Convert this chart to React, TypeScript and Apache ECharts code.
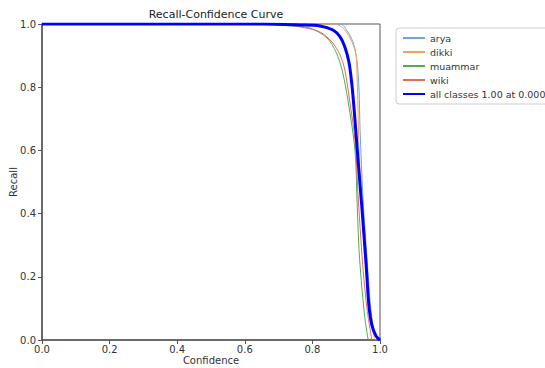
import React, { useEffect, useRef } from "react";
import * as echarts from "echarts";

const xTicks = ["0.0", "0.2", "0.4", "0.6", "0.8", "1.0"];
const classNames = ["arya", "dikki", "muammar", "wiki"];
const allLabel = "all classes 1.00 at 0.000";

const arya: [number, number][] = [
  [0, 1], [0.8, 1], [0.882, 1.0], [0.905, 0.975], [0.923, 0.934], [0.932, 0.88],
  [0.938, 0.791], [0.941, 0.665], [0.95, 0.443], [0.962, 0.253], [0.973, 0.095],
  [0.985, 0.016], [0.994, 0],
];
const dikki: [number, number][] = [
  [0, 1], [0.84, 1], [0.867, 1], [0.896, 0.981], [0.917, 0.943], [0.929, 0.902],
  [0.932, 0.839], [0.935, 0.728], [0.938, 0.601], [0.947, 0.411], [0.959, 0.222],
  [0.97, 0.079], [0.985, 0],
];
const muammar: [number, number][] = [
  [0, 1], [0.65, 1], [0.734, 0.994], [0.793, 0.987], [0.843, 0.956], [0.87, 0.911],
  [0.888, 0.854], [0.905, 0.759], [0.926, 0.601], [0.932, 0.443], [0.938, 0.285],
  [0.947, 0.158], [0.956, 0.063], [0.965, 0],
];
const wiki: [number, number][] = [
  [0, 1], [0.7, 1], [0.763, 0.991], [0.822, 0.975], [0.858, 0.943], [0.882, 0.902],
  [0.896, 0.854], [0.91, 0.759], [0.926, 0.633], [0.936, 0.443], [0.95, 0.222],
  [0.962, 0.095], [0.976, 0],
];
const allClasses: [number, number][] = [
  [0, 1], [0.65, 1], [0.763, 0.997], [0.822, 0.994], [0.861, 0.981], [0.882, 0.959],
  [0.896, 0.927], [0.908, 0.88], [0.917, 0.807], [0.926, 0.696], [0.935, 0.57],
  [0.947, 0.411], [0.959, 0.237], [0.967, 0.111], [0.976, 0.047], [0.988, 0.013],
  [1.0, 0],
];

const classData = [arya, dikki, muammar, wiki];
const classColors = ["#6fa6d4", "#f5a257", "#4fae4f", "#e56a62"];

const FONT = "DejaVu Sans";

export default function App() {
  const ref = useRef<HTMLDivElement>(null);
  useEffect(() => {
    if (!ref.current) return;
    const chart = echarts.init(ref.current, null, { renderer: "svg" });
    const series: any[] = classNames.map((name, i) => ({
      name,
      type: "line",
      data: classData[i],
      showSymbol: false,
      symbol: "none",
      smooth: 0.3,
      lineStyle: { color: classColors[i], width: 1 },
      itemStyle: { color: classColors[i] },
    }));
    series.push({
      name: allLabel,
      type: "line",
      data: allClasses,
      showSymbol: false,
      symbol: "none",
      smooth: 0.3,
      lineStyle: { color: "#0000ff", width: 3 },
      itemStyle: { color: "#0000ff" },
    });
    chart.setOption({
      animation: false,
      backgroundColor: "#fff",
      textStyle: { fontFamily: FONT },
      title: {
        text: "Recall-Confidence Curve",
        left: 211,
        textAlign: "center",
        top: 4,
        textStyle: { fontFamily: FONT, fontSize: 11, fontWeight: "normal", color: "#222" },
      },
      legend: {
        orient: "vertical",
        left: 396,
        top: 28,
        itemWidth: 22,
        itemHeight: 10,
        itemGap: 4,
        padding: [5, 6, 5, 6],
        backgroundColor: "#fff",
        borderColor: "#ccc",
        borderWidth: 1,
        borderRadius: 3,
        itemStyle: { opacity: 0, borderWidth: 0 },
        textStyle: { fontFamily: FONT, fontSize: 9.5, color: "#333" },
        data: [...classNames, allLabel],
      },
      grid: {
        left: 42,
        top: 24,
        right: 165,
        bottom: 28,
        show: true,
        borderColor: "#555",
        borderWidth: 1,
        containLabel: false,
        outerBoundsMode: "none",
      },
      xAxis: {
        type: "value",
        min: 0,
        max: 1,
        interval: 0.2,
        name: "Confidence",
        nameLocation: "middle",
        nameGap: 15,
        nameMoveOverlap: false,
        nameTextStyle: { fontFamily: FONT, fontSize: 10, color: "#333" },
        axisLine: { show: true, lineStyle: { color: "#555", width: 1.5 } },
        axisTick: { show: true, length: 4, lineStyle: { color: "#555" } },
        axisLabel: {
          fontFamily: FONT,
          fontSize: 10,
          color: "#333",
          margin: 4,
          formatter: (v: number) => xTicks[Math.round(v / 0.2)] ?? v.toFixed(1),
        },
        splitLine: { show: false },
      },
      yAxis: {
        type: "value",
        min: 0,
        max: 1,
        interval: 0.2,
        name: "Recall",
        nameLocation: "middle",
        nameGap: 24,
        nameMoveOverlap: false,
        nameRotate: 90,
        nameTextStyle: { fontFamily: FONT, fontSize: 10, color: "#333" },
        axisLine: { show: true, lineStyle: { color: "#555", width: 1.5 } },
        axisTick: { show: true, length: 4, lineStyle: { color: "#555" } },
        axisLabel: {
          fontFamily: FONT,
          fontSize: 10,
          color: "#333",
          margin: 6,
          formatter: (v: number) => v.toFixed(1),
        },
        splitLine: { show: false },
      },
      series,
    });
    return () => chart.dispose();
  }, []);
  return <div ref={ref} style={{ width: 545, height: 368, position: "absolute", left: 0, top: 0 }} />;
}
